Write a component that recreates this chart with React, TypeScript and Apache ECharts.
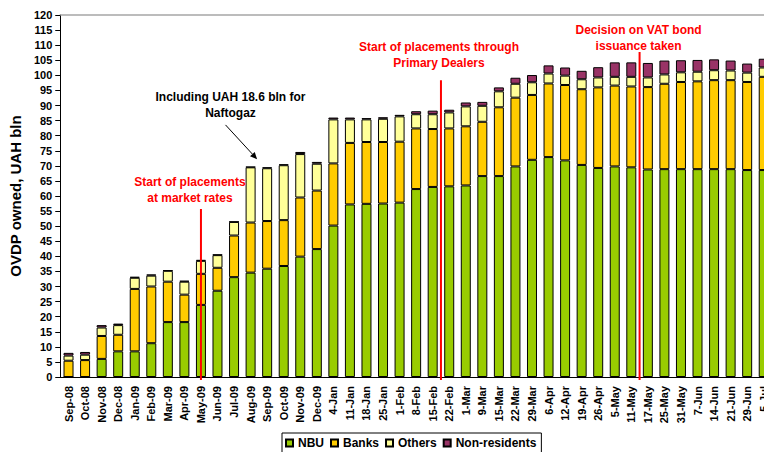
import React, { useEffect, useRef } from "react";
import * as echarts from "echarts";

const categories = [
  "Sep-08", "Oct-08", "Nov-08", "Dec-08", "Jan-09", "Feb-09", "Mar-09", "Apr-09",
  "May-09", "Jun-09", "Jul-09", "Aug-09", "Sep-09", "Oct-09", "Nov-09", "Dec-09",
  "4-Jan", "11-Jan", "18-Jan", "25-Jan", "1-Feb", "8-Feb", "15-Feb", "22-Feb",
  "1-Mar", "9-Mar", "15-Mar", "22-Mar", "29-Mar", "6-Apr", "12-Apr", "19-Apr",
  "26-Apr", "5-May", "11-May", "17-May", "25-May", "31-May", "7-Jun", "14-Jun",
  "21-Jun", "29-Jun", "5-Jul",
];

const nbu = [
  0, 0, 6.0, 8.5, 8.5, 11.2, 18.2, 18.2, 23.9, 28.6, 33.1, 34.6, 35.9, 36.8, 39.9, 42.4,
  50.2, 57.2, 57.4, 57.5, 57.8, 62.3, 63.0, 63.2, 63.5, 66.6, 66.6, 69.8, 72.0, 72.9, 71.8, 70.3,
  69.3, 69.8, 69.5, 68.8, 68.9, 68.9, 68.9, 68.9, 68.9, 68.6, 68.6,
];

const banks = [
  5.4, 5.6, 7.6, 5.5, 20.7, 18.8, 13.4, 9.1, 10.3, 7.6, 13.8, 16.6, 15.8, 15.2, 19.6, 19.4,
  20.6, 20.4, 20.5, 20.4, 20.2, 20.1, 19.2, 19.2, 19.6, 18.0, 22.8, 22.8, 21.5, 24.4, 25.0, 25.1,
  26.7, 26.8, 26.8, 27.3, 28.3, 28.9, 29.1, 29.5, 29.5, 29.2, 30.9,
];

const others = [
  1.7, 1.8, 2.8, 3.2, 3.7, 3.6, 3.6, 4.3, 4.3, 4.2, 4.5, 18.3, 17.5, 18.2, 14.4, 8.9,
  14.6, 7.8, 7.5, 7.7, 8.4, 4.7, 4.9, 5.3, 6.6, 5.3, 5.3, 4.6, 4.2, 3.3, 3.1, 3.3,
  3.3, 2.9, 3.2, 3.2, 3.1, 3.2, 3.2, 3.3, 3.2, 3.1, 3.1,
];

const nonResidents = [
  0.9, 0.9, 0.8, 0.5, 0.3, 0.4, 0.2, 0.3, 0.3, 0.2, 0.1, 0.2, 0.3, 0.3, 0.7, 0.6,
  0.6, 0.6, 0.4, 0.5, 0.5, 1.0, 1.2, 0.9, 1.3, 1.3, 1.3, 2.0, 2.4, 2.7, 2.7, 2.8,
  3.4, 4.8, 4.8, 4.8, 4.6, 4.0, 3.9, 3.6, 3.3, 3.0, 2.9,
];

const seriesNames = ["NBU", "Banks", "Others", "Non-residents"];
const seriesColors = ["#99CC00", "#FFCC00", "#FFFF99", "#993366"];

// Event markers: [left category, right category (or same), top value of line]
const eventLines = [
  { a: "May-09", b: "May-09", top: 55.7, text: "Start of placements\nat market rates", dx: -11, ty: 174 },
  { a: "15-Feb", b: "22-Feb", top: 98.4, text: "Start of placements through\nPrimary Dealers", dx: -2, ty: 39 },
  { a: "11-May", b: "17-May", top: 107.7, text: "Decision on VAT bond\nissuance taken", dx: -1, ty: 22 },
];

const FONT = "'Liberation Sans', Arial, Helvetica, sans-serif";

export default function App() {
  const ref = useRef<HTMLDivElement>(null);

  useEffect(() => {
    document.body.style.margin = "0";
    const chart = echarts.init(ref.current!, null, { renderer: "svg" });
    const datasets = [nbu, banks, others, nonResidents];

    chart.setOption({
      animation: false,
      textStyle: { fontFamily: FONT },
      grid: { left: 55, top: 15, width: 717, height: 362 },
      xAxis: [
        {
          type: "category",
          data: categories,
          axisLine: { lineStyle: { color: "#000", width: 1 } },
          axisTick: { length: 5, lineStyle: { color: "#000" } },
          axisLabel: {
            rotate: 90,
            interval: 0,
            fontSize: 11,
            fontWeight: "bold",
            color: "#000",
            margin: 9,
            fontFamily: FONT,
          },
        },
        {
          type: "category",
          position: "top",
          data: categories,
          axisLine: { show: true, lineStyle: { color: "#a6a6a6", width: 1.5 } },
          axisTick: { show: false },
          axisLabel: { show: false },
        },
      ],
      yAxis: {
        type: "value",
        min: 0,
        max: 120,
        interval: 5,
        name: "OVDP owned, UAH bln",
        nameLocation: "middle",
        nameGap: 35,
        nameTextStyle: { fontSize: 15, fontWeight: "bold", color: "#000", fontFamily: FONT },
        axisLine: { show: true, lineStyle: { color: "#000" } },
        axisTick: { show: true, length: 5, lineStyle: { color: "#000" } },
        axisLabel: { fontSize: 11, fontWeight: "bold", color: "#000", margin: 8, fontFamily: FONT },
        splitLine: { show: false },
      },
      legend: {
        left: 282,
        top: 433,
        itemWidth: 7,
        itemHeight: 7,
        itemGap: 6,
        padding: [4, 5, 4, 3],
        borderColor: "#000",
        borderWidth: 1,
        icon: "rect",
        textStyle: { fontSize: 12, fontWeight: "bold", color: "#000", fontFamily: FONT },
        data: seriesNames,
      },
      series: seriesNames.map((name, i) => ({
        name,
        type: "bar",
        stack: "total",
        data: datasets[i],
        barWidth: 10,
        itemStyle: {
          color: seriesColors[i],
          borderColor: "#000",
          borderWidth: 1,
        },
      })),
    });

    const px = (c: string) => chart.convertToPixel({ xAxisIndex: 0 }, c) as number;
    const py = (v: number) => chart.convertToPixel({ yAxisIndex: 0 }, v) as number;

    const graphics: any[] = [];
    eventLines.forEach((ev) => {
      const x = (px(ev.a) + px(ev.b)) / 2;
      graphics.push({
        type: "line",
        z: 100,
        shape: { x1: x, y1: py(ev.top), x2: x, y2: py(0) + 3 },
        style: { stroke: "#FF0000", lineWidth: 2 },
      });
      graphics.push({
        type: "text",
        z: 100,
        x: x + ev.dx,
        y: ev.ty,
        style: {
          text: ev.text,
          fill: "#FF0000",
          font: `bold 12px ${FONT}`,
          align: "center",
          verticalAlign: "top",
          lineHeight: 16,
        },
      });
    });

    // Naftogaz note with arrow pointing to Aug-09 bar
    const ax = px("Aug-09");
    const tipX = ax + 6.5;
    const tipY = py(72.2);
    const startX = tipX - 31.6;
    const startY = tipY - 34.3;
    const len = Math.hypot(tipX - startX, tipY - startY);
    const dxn = (tipX - startX) / len;
    const dyn = (tipY - startY) / len;
    const bx = tipX - 7 * dxn;
    const by = tipY - 7 * dyn;
    graphics.push({
      type: "text",
      z: 100,
      x: startX + 5,
      y: 89,
      style: {
        text: "Including UAH 18.6 bln for\nNaftogaz",
        fill: "#000",
        font: `bold 12px ${FONT}`,
        align: "center",
        verticalAlign: "top",
        lineHeight: 16,
      },
    });
    graphics.push({
      type: "line",
      z: 100,
      shape: { x1: startX, y1: startY, x2: bx, y2: by },
      style: { stroke: "#000", lineWidth: 1 },
    });
    graphics.push({
      type: "polygon",
      z: 100,
      shape: {
        points: [
          [tipX, tipY],
          [bx - 3.2 * dyn, by + 3.2 * dxn],
          [bx + 3.2 * dyn, by - 3.2 * dxn],
        ],
      },
      style: { fill: "#000" },
    });

    chart.setOption({ graphic: graphics });

    return () => {
      chart.dispose();
    };
  }, []);

  return (
    <div
      style={{
        position: "absolute",
        left: 0,
        top: 0,
        width: 764,
        height: 452,
        overflow: "hidden",
        background: "#fff",
      }}
    >
      <div ref={ref} style={{ width: 784, height: 452 }} />
    </div>
  );
}
